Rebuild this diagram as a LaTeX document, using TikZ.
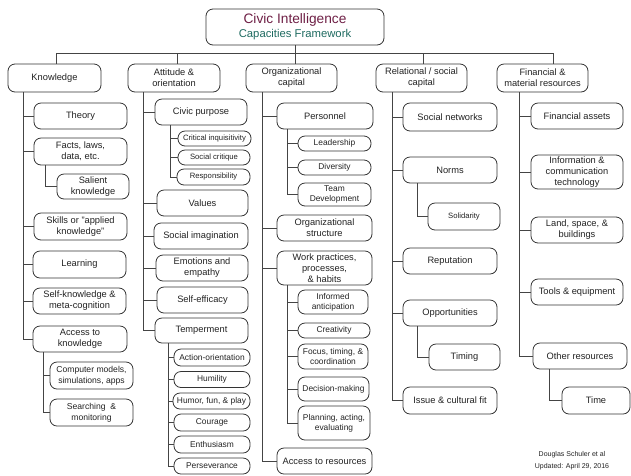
\documentclass[tikz,border=0pt]{standalone}
\usepackage{fontspec}
\setmainfont{Liberation Sans}
\definecolor{boxc}{HTML}{333333}
\definecolor{linec}{HTML}{444444}
\definecolor{txt}{HTML}{222222}
\definecolor{titlec}{HTML}{6E1F45}
\definecolor{subc}{HTML}{1E6A60}
\tikzset{
  box/.style={draw=boxc, line width=0.8pt, rounded corners=7pt, align=center,
    font=\fontsize{9.3}{11}\selectfont, text=txt, inner sep=1pt},
  sbox/.style={box, font=\fontsize{8.4}{10}\selectfont},
  xsbox/.style={box, font=\fontsize{7.7}{9}\selectfont},
  conn/.style={draw=linec, line width=0.9pt},
}
\newcommand\bx[6]{\node[#1, minimum width=#4pt, minimum height=#5pt] (#2) at (#3) {#6};}
\begin{document}
\begin{tikzpicture}[x=1pt,y=-1pt]
\useasboundingbox (0,0) rectangle (631,475);
% title
\node[box, minimum width=178pt, minimum height=36pt, font=\fontsize{13.7}{15}\selectfont] (title) at (295,27)
  {\textcolor{titlec}{Civic Intelligence}\\[-1pt]{\fontsize{11.3}{13}\selectfont\textcolor{subc}{Capacities Framework}}};
% level 1
\bx{box}{K}{54.5,78}{93}{28}{Knowledge}
\bx{box}{A}{174,78}{92}{28}{Attitude \&\\orientation}
\bx{box}{O}{291.5,78}{91}{28}{Organizational\\capital}
\bx{box}{R}{421.5,78}{91}{28}{Relational / social\\capital}
\bx{box}{F}{542.5,78}{91}{28}{Financial \&\\material resources}
% bus
\coordinate (bK) at (56,53);
\coordinate (bA) at (177,53);
\coordinate (bO) at (295,53);
\coordinate (bR) at (423,53);
\coordinate (bF) at (553,53);
\draw[conn] (title.south) -- (bO);
\draw[conn] (bK) -- (bF);
\draw[conn] (bK) -- (K.north -| bK);
\draw[conn] (bA) -- (A.north -| bA);
\draw[conn] (bO) -- (O.north -| bO);
\draw[conn] (bR) -- (R.north -| bR);
\draw[conn] (bF) -- (F.north -| bF);
% spines
\coordinate (kx) at (23,0);
\coordinate (ax) at (143,0);
\coordinate (ox) at (262,0);
\coordinate (rx) at (392,0);
\coordinate (fx) at (519,0);
% Knowledge column
\bx{box}{theory}{80.5,116}{93}{26}{Theory}
\bx{box}{facts}{80.5,151.5}{93}{27}{Facts, laws,\\data, etc.}
\bx{box}{salient}{93,186.5}{72}{25}{Salient\\knowledge}
\bx{box}{skills}{80.5,226.5}{93}{27}{Skills or "applied\\knowledge"}
\bx{box}{learning}{79.5,264.5}{93}{27}{Learning}
\bx{box}{selfk}{79.5,301}{93}{26}{Self-knowledge \&\\meta-cognition}
\bx{box}{access}{80,339}{94}{26}{Access to\\knowledge}
\bx{box}{compm}{91.5,375.5}{83}{27}{\fontsize{8.6}{10}\selectfont Computer models,\\\fontsize{8.6}{10}\selectfont simulations, apps}
\bx{box}{search}{91.5,412.5}{83}{27}{\fontsize{8.6}{10}\selectfont Searching\ \ \&\\\fontsize{8.6}{10}\selectfont monitoring}
\foreach \n in {theory,facts,skills,learning,selfk,access}
  \draw[conn] (K.south -| kx) |- (\n.west);
\coordinate (fx2) at (45,0);
\draw[conn] (facts.south -| fx2) |- (salient.west);
\coordinate (ax2) at (43,0);
\foreach \n in {compm,search}
  \draw[conn] (access.south -| ax2) |- (\n.west);
% Attitude column
\bx{box}{civic}{201,112}{92}{26}{Civic purpose}
\bx{xsbox}{crit}{214.5,138.5}{73}{15}{Critical inquisitivity}
\bx{xsbox}{socc}{214,157.5}{72}{15}{Social critique}
\bx{xsbox}{resp}{213.5,177}{73}{16}{Responsibility}
\bx{box}{values}{202.5,203}{91}{26}{Values}
\bx{box}{socim}{201,236}{94}{26}{Social imagination}
\bx{box}{emo}{202,268}{92}{26}{Emotions and\\empathy}
\bx{box}{selfe}{202.5,300}{91}{26}{Self-efficacy}
\bx{box}{temp}{201.5,330.5}{93}{25}{Temperment}
\bx{sbox}{action}{212,357.5}{76}{17}{Action-orientation}
\bx{sbox}{humility}{212,379.5}{76}{16}{Humility}
\bx{sbox}{humor}{211.5,401}{77}{16}{Humor, fun, \& play}
\bx{sbox}{courage}{212,422.5}{76}{17}{Courage}
\bx{sbox}{enth}{212,444.5}{76}{17}{Enthusiasm}
\bx{sbox}{pers}{212,466}{76}{16}{Perseverance}
\foreach \n in {civic,values,socim,emo,selfe,temp}
  \draw[conn] (A.south -| ax) |- (\n.west);
\coordinate (cx2) at (170,0);
\foreach \n in {crit,socc,resp}
  \draw[conn] (civic.south -| cx2) |- (\n.west);
\coordinate (tx2) at (168,0);
\foreach \n in {action,humility,humor,courage,enth,pers}
  \draw[conn] (temp.south -| tx2) |- (\n.west);
% Organizational column
\bx{box}{personnel}{325,116}{96}{26}{Personnel}
\bx{sbox}{leader}{334.5,143.5}{73}{15}{Leadership}
\bx{sbox}{divers}{334.5,167.5}{73}{15}{Diversity}
\bx{sbox}{team}{334.5,194.5}{73}{23}{Team\\Development}
\bx{box}{orgs}{324.5,228}{95}{26}{Organizational\\structure}
\bx{box}{work}{324.5,268}{95}{34}{Work practices,\\processes,\\\& habits}
\bx{sbox}{inform}{333,302}{70}{24}{Informed\\anticipation}
\bx{sbox}{creat}{334,330.5}{72}{15}{Creativity}
\bx{sbox}{focus}{333,356.5}{70}{25}{Focus, timing, \&\\coordination}
\bx{sbox}{decis}{333.5,389}{71}{24}{Decision-making}
\bx{sbox}{plan}{334,423}{72}{34}{Planning, acting,\\evaluating}
\bx{box}{accr}{324.5,461}{95}{26}{Access to resources}
\foreach \n in {personnel,orgs,work,accr}
  \draw[conn] (O.south -| ox) |- (\n.west);
\coordinate (px2) at (287,0);
\foreach \n in {leader,divers,team}
  \draw[conn] (personnel.south -| px2) |- (\n.west);
\foreach \n in {inform,creat,focus,decis,plan}
  \draw[conn] (work.south -| px2) |- (\n.west);
% Relational column
\bx{box}{socnet}{450,117}{94}{28}{Social networks}
\bx{box}{norms}{450,170}{94}{26}{Norms}
\bx{xsbox}{solid}{464,216.5}{72}{27}{Solidarity}
\bx{box}{reput}{450,261}{94}{26}{Reputation}
\bx{box}{opport}{450,313}{94}{26}{Opportunities}
\bx{box}{timing}{464.5,357}{71}{26}{Timing}
\bx{box}{issue}{450,400.5}{94}{27}{Issue \& cultural fit}
\foreach \n in {socnet,norms,reput,opport,issue}
  \draw[conn] (R.south -| rx) |- (\n.west);
\coordinate (nx2) at (417,0);
\draw[conn] (norms.south -| nx2) |- (solid.west);
\draw[conn] (opport.south -| nx2) |- (timing.west);
% Financial column
\bx{box}{fina}{577,116}{92}{26}{Financial assets}
\bx{box}{ict}{577,172}{92}{34}{Information \&\\communication\\technology}
\bx{box}{land}{577,230}{92}{26}{Land, space, \&\\buildings}
\bx{box}{tools}{577,292}{92}{26}{Tools \& equipment}
\bx{box}{other}{580,356}{94}{26}{Other resources}
\bx{box}{time}{596,400.5}{68}{27}{Time}
\foreach \n in {fina,ict,land,tools,other}
  \draw[conn] (F.south -| fx) |- (\n.west);
\coordinate (ox2) at (549,0);
\draw[conn] (other.south -| ox2) |- (time.west);
% footer
\node[align=center, font=\fontsize{7}{12}\selectfont, text=txt, inner sep=0pt] (foot) at (572,461)
  {Douglas Schuler et al\\Updated: April 29, 2016};
\end{tikzpicture}
\end{document}
